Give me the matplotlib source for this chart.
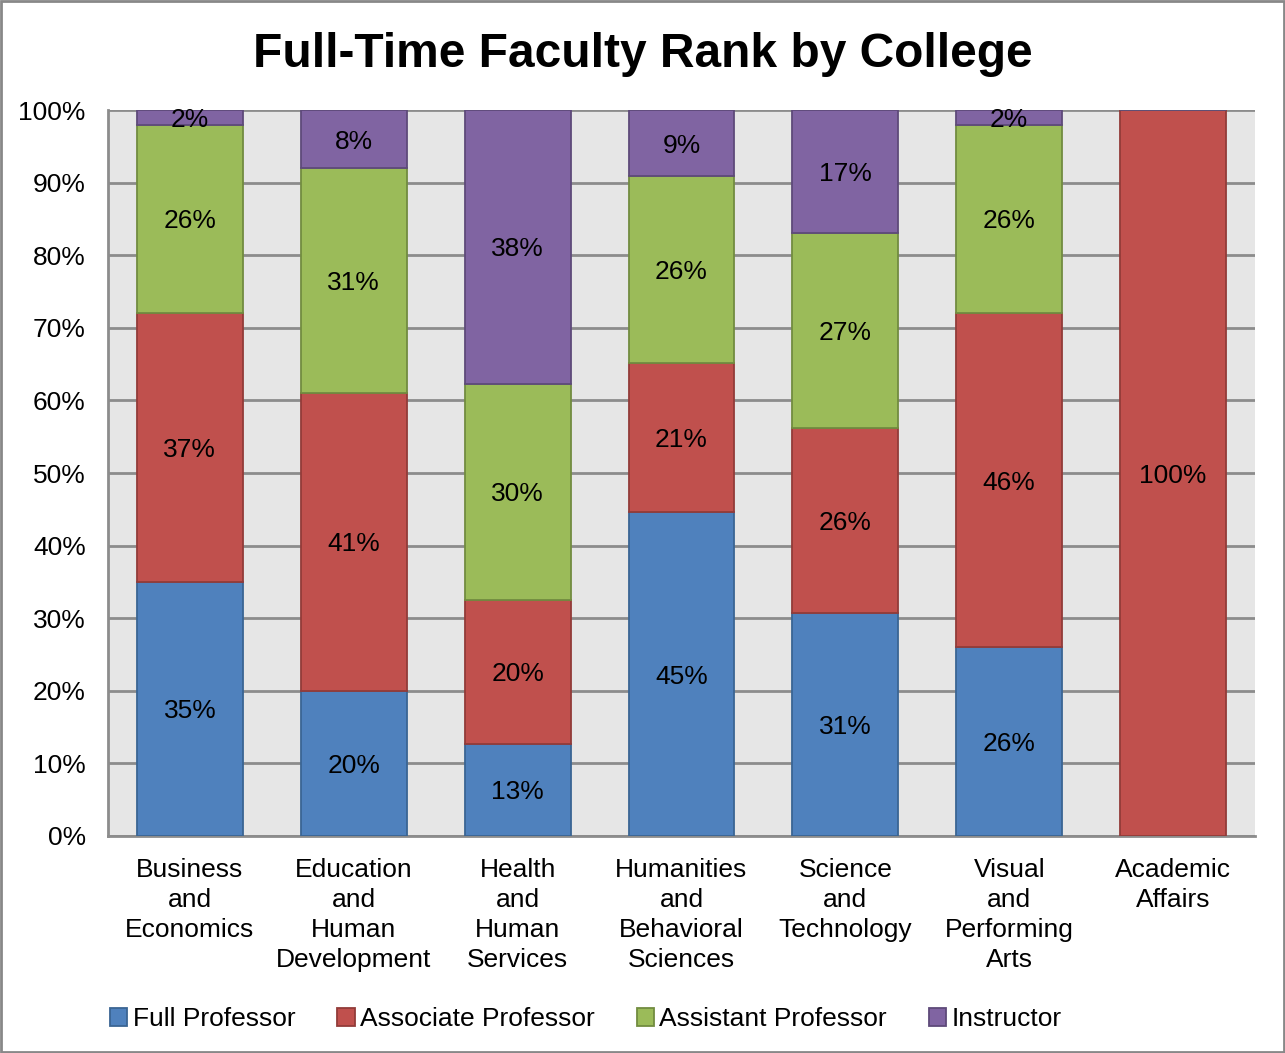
import matplotlib
matplotlib.use("Agg")
import matplotlib.pyplot as plt
from matplotlib.patches import Rectangle
import numpy as np

plt.rcParams['font.family'] = ['Liberation Sans', 'DejaVu Sans']

colleges = [
    "Business\nand\nEconomics",
    "Education\nand\nHuman\nDevelopment",
    "Health\nand\nHuman\nServices",
    "Humanities\nand\nBehavioral\nSciences",
    "Science\nand\nTechnology",
    "Visual\nand\nPerforming\nArts",
    "Academic\nAffairs",
]
ranks = ["Full Professor", "Associate Professor", "Assistant Professor", "Instructor"]

# share of each rank within a college, percent
full_prof = [35.0, 20.0, 12.7, 44.6, 30.7, 26.0, 0.0]
assoc_prof = [37.0, 41.0, 19.8, 20.6, 25.5, 46.0, 100.0]
asst_prof = [26.0, 31.0, 29.8, 25.7, 26.9, 26.0, 0.0]
instructor = [2.0, 8.0, 37.7, 9.1, 16.9, 2.0, 0.0]

fills = ["#4F81BD", "#C0504D", "#9BBB59", "#8064A2"]
edges = ["#3A6593", "#923B39", "#728C40", "#5E4A7A"]

fig = plt.figure(figsize=(12.85, 10.53), dpi=100)
ax = fig.add_axes([0.084, 0.2061, 0.8927, 0.6894])
ax.set_facecolor("#E6E6E6")

x = np.arange(len(colleges))
bottom = np.zeros(len(colleges))
for vals, fc, ec, name in zip([full_prof, assoc_prof, asst_prof, instructor], fills, edges, ranks):
    v = np.array(vals) / 100.0
    ax.bar(x, v, width=0.646, bottom=bottom, color=fc, edgecolor=ec,
           linewidth=1.3, label=name, zorder=3)
    for xi, b, h in zip(x, bottom, v):
        if h > 0:
            ax.text(xi, b + h / 2, f"{int(h * 100 + 0.5)}%", ha="center",
                    va="center_baseline", fontsize=19, color="black", zorder=4)
    bottom = bottom + v

ax.set_xlim(-0.5, 6.5)
ax.set_ylim(0, 1.0)
ax.set_yticks(np.arange(0, 1.01, 0.1))
ax.set_yticklabels([f"{int(t)}%" for t in np.arange(0, 101, 10)], fontsize=19)
ax.yaxis.grid(True, color="#8C8C8C", linewidth=2, zorder=1)
ax.set_axisbelow(True)
ax.set_xticks(x)
ax.set_xticklabels(colleges, fontsize=19, linespacing=1.32)
ax.tick_params(axis="y", length=0, pad=16)
ax.tick_params(axis="x", length=0, pad=15.5)
for s in ["top", "right"]:
    ax.spines[s].set_visible(False)
for s in ["left", "bottom"]:
    ax.spines[s].set_color("#8C8C8C")
    ax.spines[s].set_linewidth(2)

fig.suptitle("Full-Time Faculty Rank by College", fontsize=34.5, fontweight="bold",
             x=0.5, y=0.97)

fig.legend(loc="lower center", bbox_to_anchor=(0.456, -0.002), ncol=4, frameon=False,
           fontsize=19, handlelength=0.65, handleheight=0.65, handletextpad=0.2,
           columnspacing=1.6)

fig.patches.append(Rectangle((0.001, 0.001), 0.998, 0.998, transform=fig.transFigure,
                             fill=False, edgecolor="#888888", linewidth=2))

fig.savefig("out.png", dpi=100)
